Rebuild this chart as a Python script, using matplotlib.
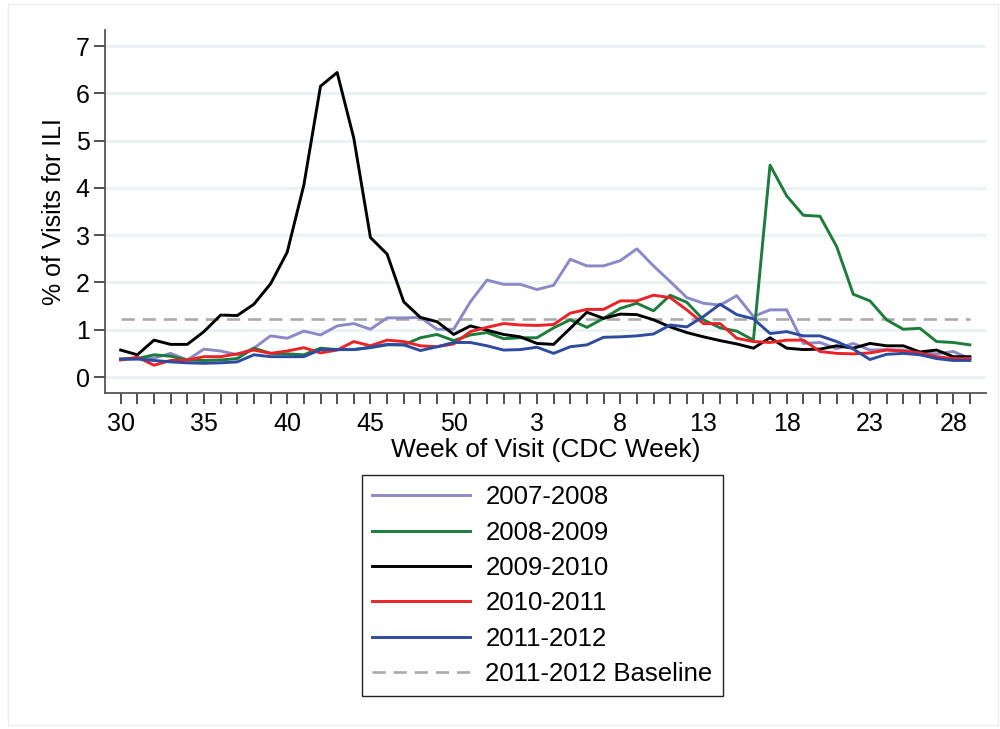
import matplotlib
matplotlib.use("Agg")
import matplotlib.pyplot as plt
from matplotlib.patches import Rectangle

plt.rcParams['font.family'] = ['Liberation Sans', 'DejaVu Sans']

# CDC weeks, July through June
weeks = list(range(30, 53)) + list(range(1, 30))

ili_0708 = [0.37, 0.39, 0.40, 0.50, 0.36, 0.59, 0.55, 0.47, 0.61, 0.87, 0.82, 0.97, 0.89, 1.08, 1.13, 1.01, 1.25,
            1.25, 1.26, 1.01, 1.01, 1.59, 2.05, 1.96, 1.96, 1.85, 1.94, 2.49, 2.35, 2.35, 2.46, 2.71, 2.35, 2.02,
            1.68, 1.56, 1.52, 1.72, 1.28, 1.42, 1.42, 0.71, 0.73, 0.60, 0.71, 0.57, 0.58, 0.57, 0.51, 0.49, 0.54, 0.39]
ili_0809 = [0.38, 0.39, 0.47, 0.44, 0.36, 0.35, 0.36, 0.39, 0.61, 0.50, 0.49, 0.47, 0.61, 0.58, 0.58, 0.62, 0.68,
            0.68, 0.83, 0.90, 0.77, 0.89, 0.94, 0.81, 0.83, 0.83, 1.04, 1.21, 1.05, 1.24, 1.45, 1.56, 1.40, 1.73,
            1.58, 1.21, 1.04, 0.97, 0.78, 4.48, 3.83, 3.42, 3.40, 2.76, 1.75, 1.61, 1.21, 1.01, 1.03, 0.75, 0.73, 0.68]
ili_0910 = [0.57, 0.47, 0.78, 0.69, 0.69, 0.96, 1.31, 1.30, 1.54, 1.97, 2.64, 4.06, 6.15, 6.44, 5.05, 2.95, 2.60,
            1.59, 1.26, 1.17, 0.90, 1.08, 0.99, 0.90, 0.85, 0.71, 0.69, 1.03, 1.37, 1.24, 1.33, 1.32, 1.21, 1.06,
            0.94, 0.85, 0.77, 0.70, 0.61, 0.83, 0.61, 0.58, 0.59, 0.66, 0.61, 0.71, 0.66, 0.66, 0.53, 0.57, 0.43, 0.43]
ili_1011 = [0.36, 0.42, 0.25, 0.35, 0.36, 0.43, 0.43, 0.49, 0.57, 0.50, 0.55, 0.62, 0.51, 0.57, 0.75, 0.66, 0.78,
            0.75, 0.66, 0.64, 0.70, 0.96, 1.05, 1.13, 1.10, 1.09, 1.11, 1.35, 1.43, 1.43, 1.61, 1.61, 1.73, 1.68,
            1.42, 1.13, 1.13, 0.82, 0.75, 0.73, 0.78, 0.78, 0.54, 0.50, 0.49, 0.51, 0.57, 0.55, 0.51, 0.43, 0.39, 0.39]
ili_1112 = [0.38, 0.38, 0.35, 0.32, 0.30, 0.29, 0.30, 0.32, 0.47, 0.43, 0.43, 0.43, 0.58, 0.58, 0.58, 0.63, 0.69,
            0.68, 0.56, 0.64, 0.73, 0.73, 0.66, 0.57, 0.58, 0.63, 0.50, 0.64, 0.68, 0.84, 0.85, 0.87, 0.91, 1.10,
            1.06, 1.28, 1.54, 1.32, 1.23, 0.92, 0.96, 0.87, 0.87, 0.75, 0.59, 0.37, 0.48, 0.50, 0.47, 0.39, 0.35, 0.35]
baseline_1112 = 1.22

seasons = ['2007-2008', '2008-2009', '2009-2010', '2010-2011', '2011-2012']
series = [ili_0708, ili_0809, ili_0910, ili_1011, ili_1112]
colors = ['#8C89C8', '#1C7C3C', '#000000', '#EC2227', '#2E4C9F']

xs = list(range(len(weeks)))

fig = plt.figure(figsize=(10, 7.29), dpi=100)
fig.patches.append(Rectangle((0.008, 0.005), 0.99, 0.99, transform=fig.transFigure,
                             fill=False, edgecolor='#EEEEEE', linewidth=1))
ax = fig.add_axes([0.105, 0.4613, 0.881, 0.4975])

for v in range(0, 8):
    ax.axhline(v, color='#EAF2F4', linewidth=2.2, zorder=0)

ax.plot(xs, [baseline_1112] * len(xs), color='#AAAAAA', linestyle=(0, (5, 3)), linewidth=1.9, zorder=1)
lines = []
for label, vals, c in zip(seasons, series, colors):
    ln, = ax.plot(xs, vals, color=c, linewidth=2.1, label=label, zorder=2)
    lines.append(ln)

ax.set_xlim(-0.943, 51.97)
ax.set_ylim(-0.332, 7.338)
ax.set_yticks(range(0, 8))
ax.set_xticks(xs[::5])
ax.set_xticklabels([str(weeks[i]) for i in xs[::5]])
ax.set_xticks(xs, minor=True)

for side in ['top', 'right']:
    ax.spines[side].set_visible(False)
for side in ['left', 'bottom']:
    ax.spines[side].set_color('#555555')
    ax.spines[side].set_linewidth(1.3)

ax.tick_params(axis='both', which='both', direction='out', length=8, width=1.1,
               color='#222222', labelsize=18)
ax.tick_params(axis='y', pad=3)
ax.tick_params(axis='x', pad=6)

ax.set_xlabel('Week of Visit (CDC Week)', fontsize=19, labelpad=1)
ax.set_ylabel('% of Visits for ILI', fontsize=18, labelpad=7)

handles = lines + [plt.Line2D([], [], color='#AAAAAA', linestyle=(0, (5, 3)), linewidth=1.9)]
labels = seasons + ['2011-2012 Baseline']
leg = fig.legend(handles, labels, loc='upper left', bbox_to_anchor=(0.362, 1 - 475 / 729),
                 borderaxespad=0, fontsize=18.5, handlelength=3.8, handletextpad=0.6,
                 labelspacing=0.44, borderpad=0.4, fancybox=False, framealpha=1)
leg.get_frame().set_edgecolor('#222222')
leg.get_frame().set_linewidth(1.0)

fig.savefig('out.png', dpi=100)
